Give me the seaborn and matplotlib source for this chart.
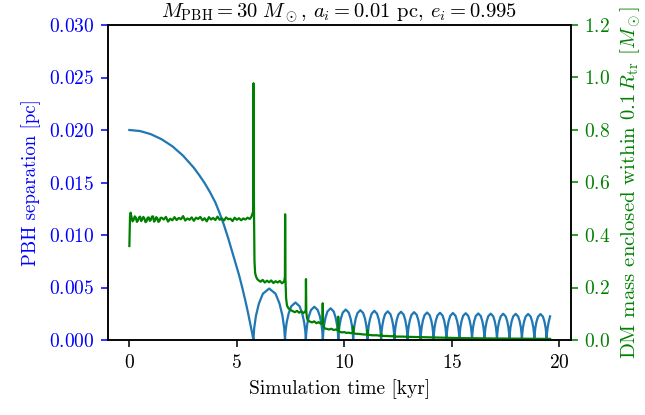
import numpy as np
import matplotlib
matplotlib.use("Agg")
import matplotlib.pyplot as plt
import seaborn as sns

plt.rcParams['font.family'] = 'serif'
plt.rcParams['font.serif'] = ['cmr10', 'DejaVu Serif']
plt.rcParams['mathtext.fontset'] = 'cm'
plt.rcParams['axes.formatter.use_mathtext'] = True

# PBH separation [pc] vs simulation time [kyr]
t_sep = [
    # first infall
    0.0, 0.5, 1.0, 1.5, 2.0, 2.5, 3.0, 3.25, 3.5, 3.75, 4.0, 4.2, 4.4, 4.6,
    4.8, 4.95, 5.1, 5.25, 5.4, 5.5, 5.6, 5.67, 5.72, 5.77,
    # bound orbit, one arch per orbit
    5.807, 5.888, 6.027, 6.211, 6.505, 6.799, 6.983, 7.122, 7.203, 7.24,
    7.264, 7.318, 7.410, 7.531, 7.725, 7.919, 8.040, 8.132, 8.186, 8.21,
    8.23, 8.273, 8.348, 8.447, 8.605, 8.763, 8.862, 8.937, 8.98, 9.00,
    9.018, 9.058, 9.126, 9.216, 9.36, 9.504, 9.594, 9.662, 9.702, 9.72,
    9.737, 9.775, 9.841, 9.927, 10.065, 10.203, 10.289, 10.355, 10.393, 10.41,
    10.427, 10.464, 10.527, 10.611, 10.745, 10.879, 10.963, 11.026, 11.063, 11.08,
    11.096, 11.13, 11.19, 11.269, 11.395, 11.521, 11.60, 11.66, 11.694, 11.71,
    11.726, 11.76, 11.819, 11.896, 12.02, 12.144, 12.221, 12.28, 12.314, 12.33,
    12.345, 12.379, 12.437, 12.513, 12.635, 12.757, 12.833, 12.891, 12.925, 12.94,
    12.955, 12.989, 13.047, 13.123, 13.245, 13.367, 13.443, 13.501, 13.535, 13.55,
    13.565, 13.598, 13.655, 13.73, 13.85, 13.97, 14.045, 14.102, 14.135, 14.15,
    14.165, 14.198, 14.255, 14.33, 14.45, 14.57, 14.645, 14.702, 14.735, 14.75,
    14.765, 14.798, 14.855, 14.93, 15.05, 15.17, 15.245, 15.302, 15.335, 15.35,
    15.365, 15.397, 15.453, 15.527, 15.645, 15.763, 15.837, 15.893, 15.925, 15.94,
    15.955, 15.986, 16.042, 16.114, 16.23, 16.346, 16.418, 16.474, 16.505, 16.52,
    16.535, 16.566, 16.622, 16.694, 16.81, 16.926, 16.998, 17.054, 17.085, 17.10,
    17.115, 17.146, 17.202, 17.274, 17.39, 17.506, 17.578, 17.634, 17.665, 17.68,
    17.695, 17.726, 17.782, 17.854, 17.97, 18.086, 18.158, 18.214, 18.245, 18.26,
    18.275, 18.306, 18.362, 18.434, 18.55, 18.666, 18.738, 18.794, 18.825, 18.84,
    18.854, 18.886, 18.94, 19.011, 19.125, 19.239, 19.31, 19.364, 19.396, 19.41,
    19.424, 19.456, 19.51, 19.57,
]
sep = [
    0.0200, 0.01990, 0.01960, 0.01912, 0.01845, 0.01755, 0.01640, 0.01570,
    0.01495, 0.01408, 0.01310, 0.01208, 0.01095, 0.00968, 0.00830, 0.00728,
    0.00620, 0.00500, 0.00370, 0.00278, 0.00180, 0.00110, 0.00058, 0.0,
    0.00113, 0.00230, 0.00348, 0.00441, 0.00490, 0.00441, 0.00348, 0.00230, 0.00113, 0.0,
    0.00082, 0.00168, 0.00253, 0.00321, 0.00357, 0.00321, 0.00253, 0.00168, 0.00082, 0.0,
    0.00073, 0.00149, 0.00225, 0.00285, 0.00317, 0.00285, 0.00225, 0.00149, 0.00073, 0.0,
    0.00069, 0.00142, 0.00214, 0.00272, 0.00302, 0.00272, 0.00214, 0.00142, 0.00069, 0.0,
    0.00067, 0.00136, 0.00206, 0.00261, 0.00290, 0.00261, 0.00206, 0.00136, 0.00067, 0.0,
    0.00065, 0.00133, 0.00202, 0.00256, 0.00284, 0.00256, 0.00202, 0.00133, 0.00065, 0.0,
    0.00064, 0.00131, 0.00197, 0.00250, 0.00278, 0.00250, 0.00197, 0.00131, 0.00064, 0.0,
    0.00063, 0.00128, 0.00194, 0.00246, 0.00273, 0.00246, 0.00194, 0.00128, 0.00063, 0.0,
    0.00062, 0.00126, 0.00191, 0.00242, 0.00269, 0.00242, 0.00191, 0.00126, 0.00062, 0.0,
    0.00061, 0.00125, 0.00188, 0.00239, 0.00265, 0.00239, 0.00188, 0.00125, 0.00061, 0.0,
    0.00060, 0.00123, 0.00186, 0.00236, 0.00262, 0.00236, 0.00186, 0.00123, 0.00060, 0.0,
    0.00060, 0.00122, 0.00184, 0.00233, 0.00259, 0.00233, 0.00184, 0.00122, 0.00060, 0.0,
    0.00059, 0.00121, 0.00182, 0.00231, 0.00257, 0.00231, 0.00182, 0.00121, 0.00059, 0.0,
    0.00059, 0.00120, 0.00181, 0.00230, 0.00255, 0.00230, 0.00181, 0.00120, 0.00059, 0.0,
    0.00058, 0.00119, 0.00180, 0.00228, 0.00253, 0.00228, 0.00180, 0.00119, 0.00058, 0.0,
    0.00058, 0.00118, 0.00178, 0.00226, 0.00251, 0.00226, 0.00178, 0.00118, 0.00058, 0.0,
    0.00058, 0.00118, 0.00178, 0.00225, 0.00250, 0.00225, 0.00178, 0.00118, 0.00058, 0.0,
    0.00057, 0.00117, 0.00177, 0.00224, 0.00249, 0.00224, 0.00177, 0.00117, 0.00057, 0.0,
    0.00057, 0.00117, 0.00176, 0.00223, 0.00248, 0.00223, 0.00176, 0.00117, 0.00057, 0.0,
    0.00057, 0.00116, 0.00175, 0.00222, 0.00247, 0.00222, 0.00175, 0.00116, 0.00057, 0.0,
    0.00057, 0.00116, 0.00175, 0.00225,
]

# DM mass enclosed within 0.1 R_tr [M_sun]
t_dm = [
    0.0, 0.03, 0.06,
    0.1, 0.15, 0.2, 0.25, 0.3, 0.35, 0.4, 0.45, 0.5, 0.55, 0.6, 0.65, 0.7, 0.75,
    0.8, 0.85, 0.9, 0.95, 1.0, 1.05, 1.1, 1.15, 1.2, 1.25, 1.3, 1.35, 1.4, 1.45,
    1.5, 1.6, 1.7, 1.8, 1.9, 2.0, 2.1, 2.2, 2.3, 2.4, 2.5, 2.6, 2.7, 2.8,
    2.9, 3.0, 3.1, 3.2, 3.3, 3.4, 3.5, 3.6, 3.7, 3.8, 3.9, 4.0, 4.1, 4.2,
    4.3, 4.4, 4.5, 4.6, 4.7, 4.8, 4.9, 5.0, 5.1, 5.2, 5.3, 5.4, 5.5, 5.6,
    5.68, 5.73, 5.76, 5.775, 5.795, 5.82, 5.85, 5.9, 5.95,
    6.0, 6.1, 6.2, 6.3, 6.4, 6.5, 6.6, 6.7, 6.8, 6.9, 7.0, 7.1, 7.2,
    7.235, 7.245, 7.26, 7.29, 7.33, 7.4, 7.5, 7.6, 7.7, 7.8, 7.9, 8.0, 8.1, 8.18,
    8.205, 8.215, 8.23, 8.26, 8.3, 8.4, 8.5, 8.6, 8.7, 8.8, 8.9, 8.98,
    8.995, 9.01, 9.04, 9.1, 9.2, 9.3, 9.4, 9.5, 9.6, 9.7,
    9.715, 9.73, 9.78, 9.9, 10.0, 10.1, 10.2, 10.3, 10.4,
    10.41, 10.425, 10.5, 10.7, 10.9, 11.07,
    11.08, 11.095, 11.3, 11.5, 11.7, 11.71, 11.72, 12.0, 12.3, 12.32, 12.34,
    12.7, 13.0, 13.5, 14.0, 14.5, 15.0, 15.5, 16.0, 16.5, 17.0, 17.5, 18.0,
    18.5, 19.0, 19.57,
]
dm_mass = [
    0.358, 0.470, 0.485,
    0.468, 0.452, 0.458, 0.471, 0.466, 0.450, 0.455, 0.467, 0.470, 0.453, 0.460, 0.469, 0.463, 0.449,
    0.452, 0.466, 0.467, 0.454, 0.458, 0.470, 0.471, 0.451, 0.456, 0.468, 0.464, 0.450, 0.453, 0.465,
    0.466, 0.459, 0.469, 0.451, 0.462, 0.456, 0.468, 0.457, 0.465, 0.460, 0.472, 0.455, 0.463, 0.458,
    0.467, 0.454, 0.466, 0.461, 0.469, 0.456, 0.464, 0.452, 0.468, 0.459, 0.465, 0.457, 0.470, 0.458,
    0.463, 0.455, 0.467, 0.460, 0.462, 0.453, 0.466, 0.458, 0.464, 0.456, 0.463, 0.459, 0.466, 0.461,
    0.470, 0.482, 0.490, 0.978, 0.520, 0.300, 0.255, 0.240, 0.232,
    0.228, 0.222, 0.229, 0.219, 0.226, 0.220, 0.227, 0.217, 0.224, 0.219, 0.225, 0.216, 0.223,
    0.240, 0.479, 0.240, 0.160, 0.132, 0.121, 0.114, 0.110, 0.106, 0.111, 0.104, 0.109, 0.103, 0.108,
    0.115, 0.232, 0.110, 0.085, 0.075, 0.070, 0.067, 0.071, 0.064, 0.068, 0.062, 0.066,
    0.140, 0.065, 0.050, 0.044, 0.042, 0.040, 0.043, 0.038, 0.040, 0.037,
    0.089, 0.036, 0.031, 0.029, 0.030, 0.027, 0.028, 0.026, 0.027,
    0.051, 0.026, 0.024, 0.023, 0.021, 0.021,
    0.038, 0.020, 0.018, 0.018, 0.016, 0.024, 0.016, 0.015, 0.014, 0.019, 0.013,
    0.013, 0.012, 0.011, 0.010, 0.009, 0.008, 0.007, 0.0065, 0.006, 0.0058, 0.0055, 0.005,
    0.0048, 0.0045, 0.0042,
]

fig = plt.figure(figsize=(645 / 140, 415 / 140), dpi=140)
ax = fig.add_axes([108.3 / 645, 75 / 415, (570.7 - 108.3) / 645, 315 / 415])

sns.lineplot(x=t_sep, y=sep, ax=ax, color='C0', lw=1.15, estimator=None, sort=False)
ax.set_xlim(-0.98, 20.53)
ax.set_ylim(0, 0.03)
ax.set_xticks([0, 5, 10, 15, 20])
ax.set_xlabel('Simulation time [kyr]')
ax.set_ylabel('PBH separation [pc]', color='blue', fontsize=9.7)
ax.tick_params(axis='y', colors='blue')
ax.set_title(r'$M_\mathrm{PBH} = 30\ M_\odot$, $a_i = 0.01$ pc, $e_i = 0.995$',
             fontsize=10.6, pad=2.5)

ax2 = ax.twinx()
sns.lineplot(x=t_dm, y=dm_mass, ax=ax2, color='green', lw=1.15, estimator=None, sort=False)
ax2.set_ylim(0, 1.2)
ax2.set_ylabel(r'DM mass enclosed within $0.1\,R_\mathrm{tr}$ [$M_\odot$]', color='green',
               fontsize=10.7)
ax2.tick_params(axis='y', colors='green')

fig.savefig('out.png', dpi=140)
